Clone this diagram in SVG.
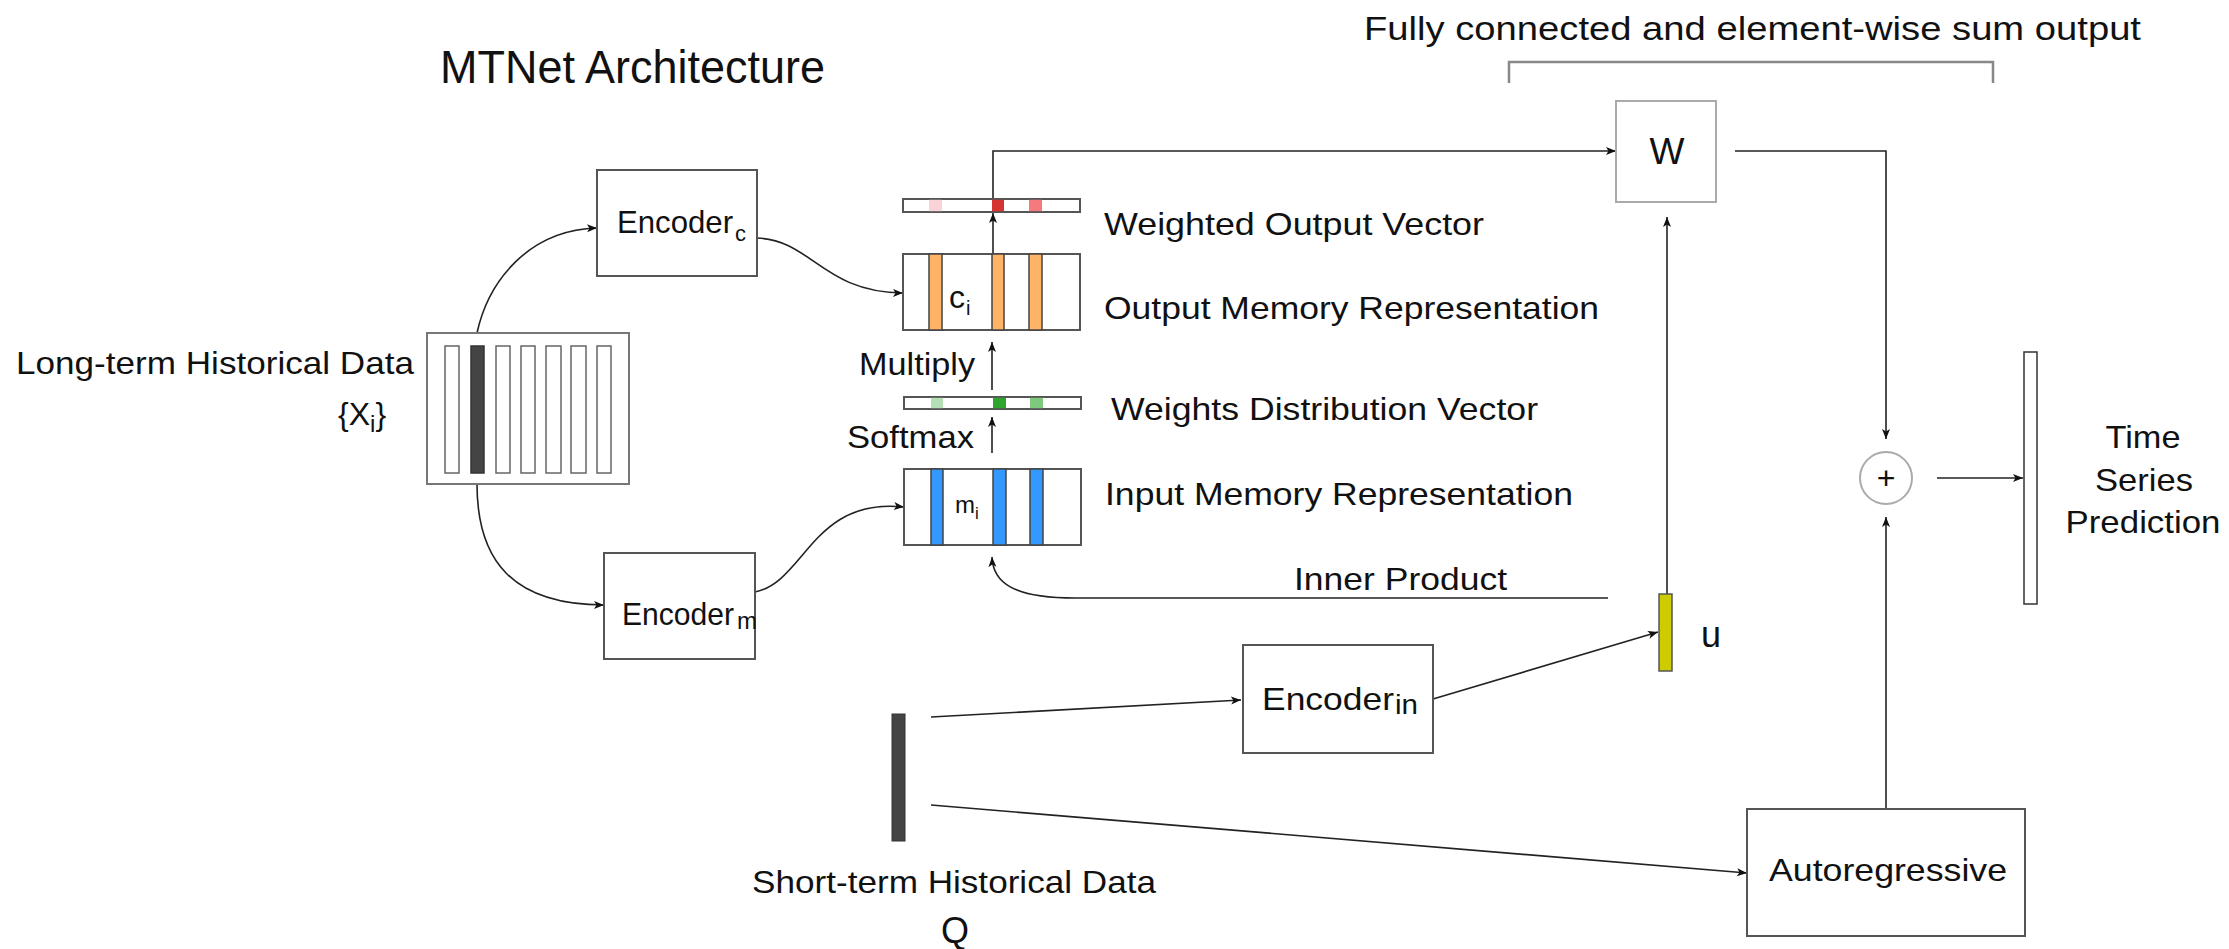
<svg xmlns="http://www.w3.org/2000/svg" width="2229" height="949" viewBox="0 0 2229 949">
  <defs>
    <marker id="arr" viewBox="0 0 10 10" refX="10" refY="5" markerWidth="11" markerHeight="10" markerUnits="userSpaceOnUse" orient="auto">
      <path d="M0,1 L10,5 L0,9 L2.5,5 z" fill="#111"/>
    </marker>
    <style>
      text { font-family: "Liberation Sans", Arial, Helvetica, sans-serif; fill: #111; }
      .lbl { font-size: 32px; }
      .sub { font-size: 24px; }
      .box { fill: #fff; stroke: #555; stroke-width: 2; }
      .light { fill: #fff; stroke: #aaa; stroke-width: 2; }
      .cell { stroke: #444; stroke-width: 1.5; }
      .conn { fill: none; stroke: #222; stroke-width: 1.6; }
      .arrow { marker-end: url(#arr); }
    </style>
  </defs>

  <rect width="2229" height="949" fill="#fff"/>

  <!-- headings -->
  <text x="440" y="83" style="font-size:46px" textLength="385" lengthAdjust="spacingAndGlyphs">MTNet Architecture</text>
  <g id="fc-output-bracket">
    <text x="1364" y="40" style="font-size:34px" textLength="777" lengthAdjust="spacingAndGlyphs">Fully connected and element-wise sum output</text>
    <path d="M1509 83 L1509 62 L1993 62 L1993 83" fill="none" stroke="#888" stroke-width="2.5"/>
  </g>

  <!-- connectors -->
  <g id="connectors">
    <path class="conn arrow" d="M477 333 C488 282, 528 230, 597 228"/>
    <path class="conn arrow" d="M477 484 C477 560, 512 605, 604 605"/>
    <path class="conn arrow" d="M757 238 C812 240, 822 292, 903 293"/>
    <path class="conn arrow" d="M755 592 C805 582, 812 497, 904 507"/>
    <path class="conn arrow" d="M993 254 L993 213"/>
    <path class="conn arrow" d="M993 199 L993 151 L1616 151"/>
    <path class="conn arrow" d="M992 390 L992 342"/>
    <path class="conn arrow" d="M992 453 L992 417"/>
    <path class="conn arrow" d="M1608 598 L1075 598 C1012 598, 993 582, 992 557"/>
    <path class="conn arrow" d="M1667 594 L1667 217"/>
    <path class="conn arrow" d="M1735 151 L1886 151 L1886 439"/>
    <path class="conn arrow" d="M1886 809 L1886 517"/>
    <path class="conn arrow" d="M1937 478 L2023 478"/>
    <path class="conn arrow" d="M931 717 L1241 700"/>
    <path class="conn arrow" d="M931 805 L1747 873"/>
    <path class="conn arrow" d="M1433 699 L1658 632"/>
  </g>

  <!-- long-term historical data -->
  <g id="long-term-data">
    <text class="lbl" x="16" y="374" textLength="398" lengthAdjust="spacingAndGlyphs">Long-term Historical Data</text>
    <text class="lbl" x="338" y="425">{X<tspan class="sub" dy="7">i</tspan><tspan dy="-7">}</tspan></text>
    <rect x="427" y="333" width="202" height="151" fill="#fff" stroke="#777" stroke-width="2"/>
    <g fill="#fff" stroke="#666" stroke-width="1.5">
      <rect x="445" y="346" width="14" height="127"/>
      <rect x="471" y="346" width="13" height="127" fill="#444" stroke="#333"/>
      <rect x="496" y="346" width="14" height="127"/>
      <rect x="521" y="346" width="14" height="127"/>
      <rect x="546" y="346" width="15" height="127"/>
      <rect x="571" y="346" width="15" height="127"/>
      <rect x="597" y="346" width="14" height="127"/>
    </g>
  </g>

  <!-- encoders -->
  <g id="encoder-c">
    <rect class="box" x="597" y="170" width="160" height="106"/>
    <text class="lbl" x="617" y="233" textLength="116" lengthAdjust="spacingAndGlyphs">Encoder</text>
    <text x="735" y="241" style="font-size:22px">c</text>
  </g>
  <g id="encoder-m">
    <rect class="box" x="604" y="553" width="151" height="106"/>
    <text class="lbl" x="622" y="625" textLength="112" lengthAdjust="spacingAndGlyphs">Encoder</text>
    <text class="sub" x="737" y="629">m</text>
  </g>
  <g id="encoder-in">
    <rect class="box" x="1243" y="645" width="190" height="108"/>
    <text class="lbl" x="1262" y="710" textLength="132" lengthAdjust="spacingAndGlyphs">Encoder</text>
    <text x="1395" y="714" style="font-size:27px" textLength="23" lengthAdjust="spacingAndGlyphs">in</text>
  </g>

  <!-- memory stack -->
  <g id="weighted-output-vector">
    <rect class="box" x="903" y="199" width="177" height="13" stroke-width="1.5"/>
    <rect x="929" y="199.8" width="13" height="11.4" fill="#f9d3d6"/>
    <rect x="992" y="199.8" width="12" height="11.4" fill="#d63333"/>
    <rect x="1029" y="199.8" width="13" height="11.4" fill="#f47a7e"/>
    <text class="lbl" x="1104" y="235" textLength="380" lengthAdjust="spacingAndGlyphs">Weighted Output Vector</text>
  </g>
  <g id="output-memory">
    <rect class="box" x="903" y="254" width="177" height="76" stroke-width="1.5"/>
    <rect class="cell" x="929" y="254" width="13" height="76" fill="#ffb366"/>
    <rect class="cell" x="992" y="254" width="12" height="76" fill="#ffb366"/>
    <rect class="cell" x="1029" y="254" width="13" height="76" fill="#ffb366"/>
    <text x="949" y="308" style="font-size:32px">c</text>
    <text x="966" y="315" style="font-size:20px">i</text>
    <text class="lbl" x="1104" y="319" textLength="495" lengthAdjust="spacingAndGlyphs">Output Memory Representation</text>
  </g>
  <g id="weights-distribution-vector">
    <rect class="box" x="904" y="397" width="177" height="12" stroke-width="1.5"/>
    <rect x="931" y="397.8" width="12" height="10.4" fill="#b5e0b5"/>
    <rect x="993" y="397.8" width="13" height="10.4" fill="#2ea52e"/>
    <rect x="1030" y="397.8" width="13" height="10.4" fill="#7fc97f"/>
    <text class="lbl" x="1111" y="420" textLength="427" lengthAdjust="spacingAndGlyphs">Weights Distribution Vector</text>
  </g>
  <g id="input-memory">
    <rect class="box" x="904" y="469" width="177" height="76" stroke-width="1.5"/>
    <rect class="cell" x="931" y="469" width="12" height="76" fill="#3399ff"/>
    <rect class="cell" x="993" y="469" width="13" height="76" fill="#3399ff"/>
    <rect class="cell" x="1030" y="469" width="13" height="76" fill="#3399ff"/>
    <text x="955" y="513" style="font-size:24px">m</text>
    <text x="975" y="519" style="font-size:17px">i</text>
    <text class="lbl" x="1105" y="505" textLength="468" lengthAdjust="spacingAndGlyphs">Input Memory Representation</text>
  </g>
  <g id="step-labels">
    <text class="lbl" x="859" y="375" textLength="116" lengthAdjust="spacingAndGlyphs">Multiply</text>
    <text class="lbl" x="847" y="448" textLength="127" lengthAdjust="spacingAndGlyphs">Softmax</text>
    <text class="lbl" x="1294" y="590" textLength="213" lengthAdjust="spacingAndGlyphs">Inner Product</text>
  </g>

  <!-- query side -->
  <g id="u-vector">
    <rect x="1659" y="594" width="13" height="77" fill="#cccc00" stroke="#555" stroke-width="1.5"/>
    <text x="1701" y="647" style="font-size:36px">u</text>
  </g>
  <g id="short-term-data">
    <rect x="892" y="714" width="13" height="127" fill="#444" stroke="#333" stroke-width="1"/>
    <text class="lbl" x="752" y="893" textLength="404" lengthAdjust="spacingAndGlyphs">Short-term Historical Data</text>
    <text x="941" y="943" style="font-size:36px">Q</text>
  </g>

  <!-- output side -->
  <g id="w-layer">
    <rect class="light" x="1616" y="101" width="100" height="101" stroke-width="1.8"/>
    <text x="1667" y="164" text-anchor="middle" style="font-size:37px">W</text>
  </g>
  <g id="sum-node">
    <circle cx="1886" cy="478" r="26" fill="#fff" stroke="#aaa" stroke-width="2"/>
    <text x="1886" y="489" text-anchor="middle" style="font-size:32px">+</text>
  </g>
  <g id="autoregressive">
    <rect class="box" x="1747" y="809" width="278" height="127"/>
    <text class="lbl" x="1769" y="881" textLength="238" lengthAdjust="spacingAndGlyphs">Autoregressive</text>
  </g>
  <g id="prediction">
    <rect x="2024" y="352" width="13" height="252" fill="#fff" stroke="#333" stroke-width="1.5"/>
    <text class="lbl" x="2143" y="448" text-anchor="middle" textLength="75" lengthAdjust="spacingAndGlyphs">Time</text>
    <text class="lbl" x="2144" y="491" text-anchor="middle" textLength="98" lengthAdjust="spacingAndGlyphs">Series</text>
    <text class="lbl" x="2143" y="533" text-anchor="middle" textLength="155" lengthAdjust="spacingAndGlyphs">Prediction</text>
  </g>
</svg>
